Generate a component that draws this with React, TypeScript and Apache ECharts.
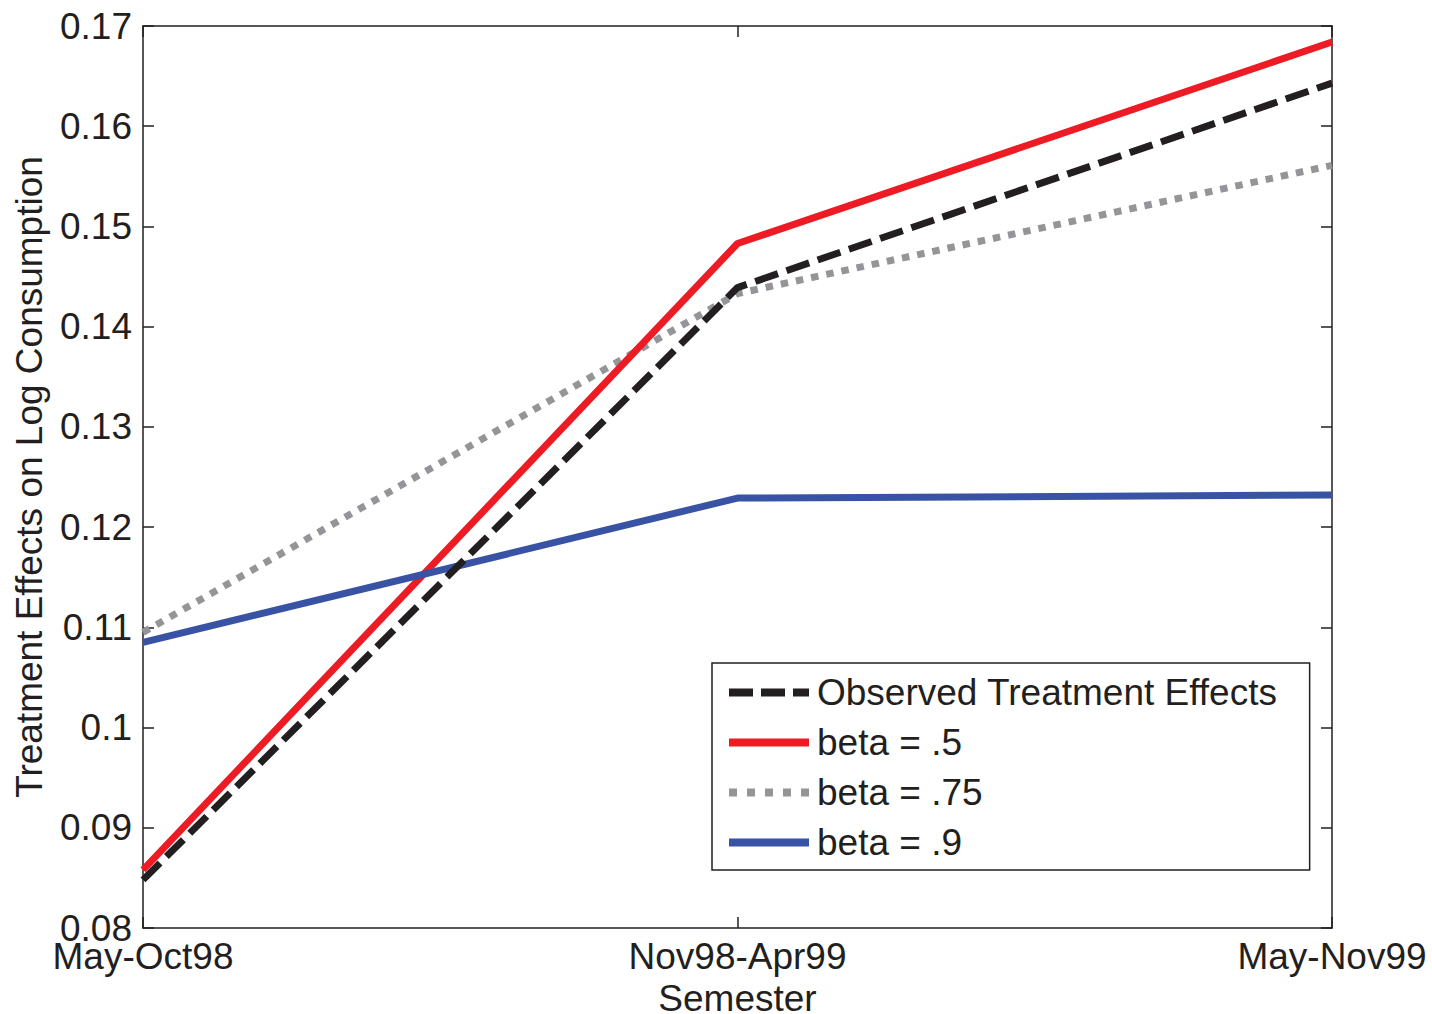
import React, { useEffect, useRef } from "react";
import * as echarts from "echarts";

const categories = ["May-Oct98", "Nov98-Apr99", "May-Nov99"];
const observed = [0.0848, 0.1439, 0.1643];
const beta50 = [0.0858, 0.1483, 0.1684];
const beta75 = [0.1095, 0.1433, 0.1561];
const beta90 = [0.1085, 0.1229, 0.1232];
const seriesNames = ["Observed Treatment Effects", "beta = .5", "beta = .75", "beta = .9"];
const yTicks = { min: 0.08, max: 0.17, interval: 0.01 };

const FONT = "Liberation Sans, Arial, Helvetica, sans-serif";
const INK = "#231F20";
const RED = "#ED1C24";
const GRAY = "#939598";
const BLUE = "#3953A4";

const ICON_DASH = "path://M0,0h24v8h-24z M32,0h24v8h-24z M64,0h16v8h-16z";
const ICON_DOT = "path://M0,0h8v8h-8z M18,0h8v8h-8z M36,0h8v8h-8z M54,0h8v8h-8z M72,0h8v8h-8z";
const ICON_SOLID = "path://M0,0h80v8h-80z";

export default function App() {
  const ref = useRef<HTMLDivElement>(null);
  useEffect(() => {
    if (!ref.current) return;
    const chart = echarts.init(ref.current, undefined, { renderer: "svg", width: 1432, height: 1014 });
    const axisLine = { show: true, lineStyle: { color: INK, width: 1.5 } };
    const axisTick = { show: true, inside: true, length: 11, lineStyle: { color: INK, width: 1.5 } };
    const fmtY = (v: number) => parseFloat(v.toFixed(2)).toString();
    chart.setOption({
      animation: false,
      backgroundColor: "#ffffff",
      textStyle: { fontFamily: FONT },
      grid: {
        left: 143,
        top: 26,
        right: 100,
        bottom: 86,
        containLabel: false,
        outerBoundsMode: "none",
      },
      legend: {
        orient: "vertical",
        left: 712,
        top: 663,
        padding: [11, 32, 9, 17],
        itemWidth: 80,
        itemHeight: 8,
        itemGap: 13,
        borderColor: INK,
        borderWidth: 1.5,
        backgroundColor: "#ffffff",
        itemStyle: { borderWidth: 0 },
        data: [
          { name: seriesNames[0], icon: ICON_DASH },
          { name: seriesNames[1], icon: ICON_SOLID },
          { name: seriesNames[2], icon: ICON_DOT },
          { name: seriesNames[3], icon: ICON_SOLID },
        ],
        textStyle: { fontFamily: FONT, fontSize: 37, color: INK, padding: [0, 0, 0, 3] },
      },
      xAxis: [
        {
          type: "category",
          data: categories,
          boundaryGap: false,
          position: "bottom",
          axisLine,
          axisTick: { ...axisTick, alignWithLabel: true },
          axisLabel: { fontFamily: FONT, fontSize: 37, color: INK, margin: 10 },
          name: "Semester",
          nameLocation: "middle",
          nameGap: 49,
          nameTextStyle: { fontFamily: FONT, fontSize: 37, lineHeight: 30, color: INK },
          splitLine: { show: false },
        },
        {
          type: "category",
          data: categories,
          boundaryGap: false,
          position: "top",
          axisLine,
          axisTick,
          axisLabel: { show: false },
          splitLine: { show: false },
        },
      ],
      yAxis: [
        {
          type: "value",
          min: yTicks.min,
          max: yTicks.max,
          interval: yTicks.interval,
          position: "left",
          axisLine,
          axisTick,
          axisLabel: { fontFamily: FONT, fontSize: 37, color: INK, margin: 11, formatter: fmtY },
          name: "Treatment Effects on Log Consumption",
          nameLocation: "middle",
          nameGap: 95,
          nameTextStyle: { fontFamily: FONT, fontSize: 37, color: INK },
          splitLine: { show: false },
        },
        {
          type: "value",
          min: yTicks.min,
          max: yTicks.max,
          interval: yTicks.interval,
          position: "right",
          axisLine,
          axisTick,
          axisLabel: { show: false },
          splitLine: { show: false },
        },
      ],
      series: [
        {
          name: seriesNames[0],
          type: "line",
          data: observed,
          symbol: "none",
          z: 4,
          lineStyle: { color: INK, width: 7, type: [24, 9], cap: "butt" },
          itemStyle: { color: INK },
        },
        {
          name: seriesNames[1],
          type: "line",
          data: beta50,
          symbol: "none",
          z: 3,
          lineStyle: { color: RED, width: 7, type: "solid" },
          itemStyle: { color: RED },
        },
        {
          name: seriesNames[2],
          type: "line",
          data: beta75,
          symbol: "none",
          z: 2,
          lineStyle: { color: GRAY, width: 7, type: [7.5, 8], cap: "butt" },
          itemStyle: { color: GRAY },
        },
        {
          name: seriesNames[3],
          type: "line",
          data: beta90,
          symbol: "none",
          z: 3,
          lineStyle: { color: BLUE, width: 7, type: "solid" },
          itemStyle: { color: BLUE },
        },
      ],
    });
    return () => chart.dispose();
  }, []);
  return <div ref={ref} style={{ width: 1432, height: 1014, position: "absolute", left: 0, top: 0 }} />;
}
